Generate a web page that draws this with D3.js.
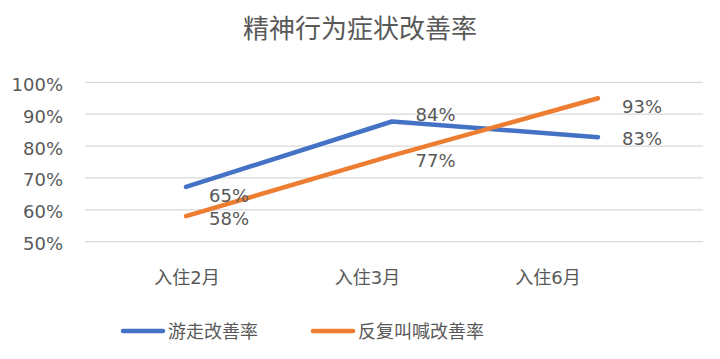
<!DOCTYPE html>
<html><head><meta charset="utf-8">
<script src="https://cdn.jsdelivr.net/npm/d3@7"></script>
<style>body{margin:0;background:#fff}svg{display:block}</style>
</head><body>
<svg id="c" width="720" height="359"></svg>
<script>
// ---- data ----
const title = "精神行为症状改善率";
const categories = ["入住2月", "入住3月", "入住6月"];
const seriesNames = ["游走改善率", "反复叫喊改善率"];
const wanderLine = [67.2, 87.7, 82.8];     // plotted line values (%)
const shoutLine = [58.0, 77.0, 95.0];
const wanderLabels = [65, 84, 83];         // printed data labels (%)
const shoutLabels = [58, 77, 93];
const yTicks = [50, 60, 70, 80, 90, 100];
const colors = ["#4472C4", "#ED7D31"];

const font = "'DejaVu Sans','Noto Sans CJK SC',sans-serif";
const textColor = "#595959";
const svg = d3.select("#c");

const y = d3.scaleLinear().domain([50, 100]).range([241.7, 82.3]);
const xLine = d3.scalePoint().domain(categories).range([186, 598]);
const xAxisLbl = d3.scalePoint().domain(categories).range([187, 548]);
const xDataLbl = d3.scalePoint().domain(categories).range([229, 642]);

// title
svg.append("text").attr("x", 360).attr("y", 29).attr("text-anchor", "middle")
  .attr("dominant-baseline", "central").attr("font-family", font)
  .attr("font-size", 26).attr("fill", textColor).text(title);

// grid
svg.append("g").selectAll("line").data(yTicks).join("line")
  .attr("x1", 85).attr("x2", 703)
  .attr("y1", d => y(d)).attr("y2", d => y(d))
  .attr("stroke", "#D9D9D9").attr("stroke-width", 1.3);

// y tick labels
svg.append("g").selectAll("text").data(yTicks).join("text")
  .attr("x", 63).attr("y", d => y(d) + 2)
  .attr("text-anchor", "end").attr("dominant-baseline", "central")
  .attr("font-family", font).attr("font-size", 18).attr("fill", textColor)
  .text(d => d + "%");

// x category labels
svg.append("g").selectAll("text").data(categories).join("text")
  .attr("x", d => xAxisLbl(d)).attr("y", 277)
  .attr("text-anchor", "middle").attr("dominant-baseline", "central")
  .attr("font-family", font).attr("font-size", 18).attr("fill", textColor)
  .text(d => d);

// lines
const series = [wanderLine, shoutLine];
const line = d3.line().x((d, i) => xLine(categories[i])).y(d => y(d));
svg.append("g").selectAll("path").data(series).join("path")
  .attr("d", d => line(d)).attr("fill", "none")
  .attr("stroke", (d, i) => colors[i]).attr("stroke-width", 4.5)
  .attr("stroke-linecap", "round").attr("stroke-linejoin", "round");

// data labels (placed right of each point, at the labelled value)
const labelSets = [wanderLabels, shoutLabels];
const labels = [];
labelSets.forEach((set, s) => set.forEach((v, i) => {
  let yy = y(v) + 2;
  const other = labelSets[1 - s][i];
  // where the two lines nearly meet (middle category), lift the upper label
  if (i === 1 && v > other) yy -= 21;
  if (i === 1 && v < other) yy += 3;
  labels.push({v, x: xDataLbl(categories[i]), y: yy});
}));
svg.append("g").selectAll("text").data(labels).join("text")
  .attr("x", d => d.x).attr("y", d => d.y)
  .attr("text-anchor", "middle").attr("dominant-baseline", "central")
  .attr("font-family", font).attr("font-size", 18).attr("fill", textColor)
  .text(d => d.v + "%");

// legend
const legendX = [123, 313];
const lg = svg.append("g").selectAll("g").data(seriesNames).join("g")
  .attr("transform", (d, i) => `translate(${legendX[i]},331)`);
lg.append("line").attr("x1", 0).attr("x2", 40).attr("y1", 0).attr("y2", 0)
  .attr("stroke", (d, i) => colors[i]).attr("stroke-width", 4.5).attr("stroke-linecap", "round");
lg.append("text").attr("x", 45).attr("y", 0).attr("dominant-baseline", "central")
  .attr("font-family", font).attr("font-size", 18).attr("fill", textColor).text(d => d);
</script>
</body></html>
